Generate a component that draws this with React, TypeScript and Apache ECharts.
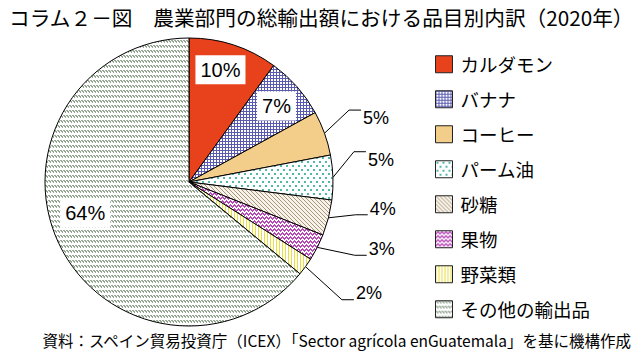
import React, { useEffect, useRef } from 'react';
import * as echarts from 'echarts';

const titleText = 'コラム２－図　農業部門の総輸出額における品目別内訳（2020年）';
const sourceText = '資料：スペイン貿易投資庁（ICEX）「Sector agrícola enGuatemala」を基に機構作成';
const categories = ['カルダモン', 'バナナ', 'コーヒー', 'パーム油', '砂糖', '果物', '野菜類', 'その他の輸出品'];
const shares = [10, 7, 5, 5, 4, 3, 2, 64];
const insideLabelIdx = [0, 1, 7];

type Px = [number, number];

function tile(w: number, h: number, bg: string, fg: string, pixels: Px[]) {
  const c = document.createElement('canvas');
  c.width = w;
  c.height = h;
  const ctx = c.getContext('2d')!;
  ctx.fillStyle = bg;
  ctx.fillRect(0, 0, w, h);
  ctx.fillStyle = fg;
  pixels.forEach(([x, y]) => ctx.fillRect(x, y, 1, 1));
  return { image: c, repeat: 'repeat' } as any;
}

function makeFills() {
  const grid: Px[] = [];
  for (let i = 0; i < 3; i++) { grid.push([i, 0]); if (i > 0) grid.push([0, i]); }
  const sugar: Px[] = [];
  for (let i = 0; i < 4; i++) { sugar.push([i, i]); }
  const zig: Px[] = [];
  const zy = [2, 1, 0, 1];
  zy.forEach((y, x) => { zig.push([x, y]); zig.push([x, y + 1]); });
  const other: Px[] = [[0, 0], [1, 1], [2, 2], [1, 0], [2, 1]];
  const palm: Px[] = [[1, 1], [2, 1], [1, 2], [2, 2], [4, 5], [5, 5], [4, 6], [5, 6]];
  return [
    '#E8421C',
    tile(3, 3, '#ffffff', '#5A5AB0', grid),
    '#F3CE8A',
    tile(6, 8, '#ffffff', '#52B8A8', palm),
    tile(4, 4, '#F8F4EC', '#A89478', sugar),
    tile(4, 4, '#ffffff', '#B848B8', zig),
    tile(3, 1, '#ffffff', '#EADF3A', [[0, 0]]),
    tile(3, 5, '#ffffff', '#96A894', other),
  ];
}

// label nudges for outside labels: [dx, dy, line-end vertical offset]
const labelNudge: Record<number, [number, number, number]> = {
  2: [2, -7, -8],
  3: [-3, -17, -8],
  4: [4, -15, 6],
  5: [16, -9, 6],
  6: [17, 12, 7],
};

export default function App() {
  const ref = useRef<HTMLDivElement>(null);
  useEffect(() => {
    document.body.style.margin = '0';
    const chart = echarts.init(ref.current!, undefined, { renderer: 'svg' });
    const fills = makeFills();
    const font = "'Noto Sans CJK JP', 'Noto Sans', sans-serif";
    const numFont = "'Liberation Sans Narrow', 'Liberation Sans', Arial, sans-serif";
    const mainData = categories.map((name, i) => ({
      name,
      value: shares[i],
      itemStyle: { color: fills[i] },
      label: { show: insideLabelIdx.indexOf(i) < 0 },
      labelLine: { show: insideLabelIdx.indexOf(i) < 0 },
    }));
    const overlayData = categories.map((name, i) => ({
      name,
      value: shares[i],
      label: { show: insideLabelIdx.indexOf(i) >= 0 },
    }));
    chart.setOption({
      animation: false,
      title: {
        text: titleText,
        left: 4,
        top: 2,
        textStyle: { fontFamily: font, fontSize: 20.7, fontWeight: 'normal', color: '#000' },
      },
      legend: {
        orient: 'vertical',
        left: 430,
        top: 50,
        icon: 'rect',
        itemWidth: 17,
        itemHeight: 17,
        itemGap: 16.5,
        data: categories,
        itemStyle: { borderColor: '#222', borderWidth: 1 },
        textStyle: { fontFamily: font, fontSize: 18.5, color: '#000', padding: [0, 0, 0, 3] },
      },
      graphic: [
        {
          type: 'text',
          right: 8,
          top: 332,
          style: { text: sourceText, font: `15.5px ${font}`, fill: '#000' },
        },
      ],
      series: [
        {
          type: 'pie',
          left: 0,
          top: 0,
          width: 640,
          height: 359,
          center: [189, 182],
          radius: [0, 144],
          startAngle: 90,
          clockwise: true,
          silent: true,
          data: mainData,
          itemStyle: { borderColor: '#000', borderWidth: 1 },
          label: {
            position: 'outside',
            formatter: '{c}%',
            fontFamily: numFont,
            fontSize: 18,
            color: '#000',
            distanceToLabelLine: 2,
          },
          labelLine: { length: 24, length2: 12, lineStyle: { color: '#000', width: 1 } },
          labelLayout: (p: any) => {
            const s = labelNudge[p.dataIndex];
            if (!s || !p.labelLinePoints) return {};
            const pts = p.labelLinePoints;
            const x2 = p.labelRect.x + s[0] - 2;
            const y2 = p.labelRect.y + p.labelRect.height / 2 + s[1] + s[2];
            return { dx: s[0], dy: s[1], labelLinePoints: [pts[0], [x2 - 12, y2], [x2, y2]] };
          },
        },
        {
          type: 'pie',
          left: 0,
          top: 0,
          width: 640,
          height: 359,
          center: [189, 182],
          radius: [86, 144],
          startAngle: 90,
          clockwise: true,
          silent: true,
          legendHoverLink: false,
          data: overlayData,
          itemStyle: { color: 'rgba(0,0,0,0)', borderWidth: 0 },
          label: {
            position: 'inside',
            formatter: '{c}%',
            fontFamily: numFont,
            fontSize: 20,
            color: '#000',
            backgroundColor: '#fff',
            padding: [5, 5, 4, 5],
          },
          labelLine: { show: false },
          labelLayout: (p: any) => (p.dataIndex === 7 ? { dy: -19, dx: 3 } : p.dataIndex === 1 ? { dx: -1, dy: 2 } : { dx: -5 }),
        },
      ],
    });
    return () => chart.dispose();
  }, []);
  return <div ref={ref} style={{ width: 640, height: 359 }} />;
}
